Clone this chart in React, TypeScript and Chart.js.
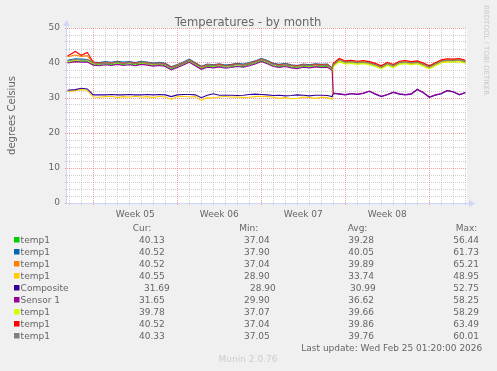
import React, { useEffect, useRef } from 'react';
import { Chart, registerables } from 'chart.js';

Chart.register(...registerables);

// x values: days relative to the start of Week 05 (Monday 00:00)
const times = [
  -2.15, -1.5, -1.0, -0.5, 0.0, 0.5, 1.0, 1.5, 2.0, 2.5, 3.0, 3.5, 4.0, 4.5, 5.0, 5.5, 6.0, 6.5, 7.0, 7.5,
  8.0, 8.5, 9.0, 9.5, 10.0, 10.5, 11.0, 11.5, 12.0, 12.5, 13.0, 13.5, 14.0, 14.5, 15.0, 15.5, 16.0, 16.5,
  17.0, 17.5, 18.0, 18.5, 19.0, 19.5, 19.9, 20.0, 20.5, 21.0, 21.5, 22.0, 22.5, 23.0, 23.5, 24.0, 24.5,
  25.0, 25.5, 26.0, 26.5, 27.0, 27.5, 28.0, 28.5, 29.0, 29.5, 30.0, 30.5, 31.0,
];

const temp1Green = [
  40.2, 40.6, 40.5, 40.6,
  39.7, 39.5, 39.8, 39.5, 39.9, 39.6, 39.8, 39.4, 39.9, 39.7, 39.4, 39.6, 39.2, 38.2, 39.0, 39.7,
  40.5, 39.5, 38.4, 39.1, 38.9, 39.2, 38.8, 39.0, 39.2, 39.0, 39.5, 40.0, 40.6, 40.1, 39.3, 38.9,
  39.3, 38.9, 38.7, 39.1, 38.9, 39.2, 38.9, 39.1,
  38.1,
  39.3, 40.7, 40.0, 40.2, 39.9, 40.1, 39.8, 39.3, 38.6, 39.6, 39.0, 39.9, 40.1, 39.8, 40.0, 39.4,
  38.6, 39.5, 40.3, 40.6, 40.5, 40.7, 40.2,
];
const temp1Blue = [
  40.8, 41.2, 41.1, 41.0,
  40.3, 40.1, 40.4, 40.2, 40.5, 40.3, 40.4, 40.1, 40.5, 40.3, 40.0, 40.2, 39.9, 38.9, 39.6, 40.3,
  41.1, 40.1, 39.1, 39.7, 39.5, 39.8, 39.4, 39.6, 39.9, 39.7, 40.1, 40.6, 41.3, 40.7, 39.9, 39.6,
  39.9, 39.5, 39.3, 39.7, 39.5, 39.8, 39.6, 39.7,
  38.6,
  39.6, 41.0, 40.3, 40.5, 40.2, 40.4, 40.1, 39.6, 38.9, 39.9, 39.3, 40.2, 40.4, 40.1, 40.3, 39.7,
  38.9, 39.8, 40.6, 40.9, 40.8, 41.0, 40.5,
];
const temp1Orange = [
  41.8, 42.3, 41.9, 42.1,
  40.1, 39.9, 40.2, 40.0, 40.3, 40.0, 40.2, 39.9, 40.3, 40.1, 39.8, 40.0, 39.7, 38.7, 39.4, 40.1,
  40.9, 39.9, 38.9, 39.5, 39.3, 39.6, 39.2, 39.4, 39.7, 39.5, 39.9, 40.4, 41.1, 40.5, 39.7, 39.4,
  39.7, 39.3, 39.1, 39.5, 39.3, 39.6, 39.4, 39.5,
  38.5,
  39.7, 41.1, 40.4, 40.6, 40.3, 40.5, 40.2, 39.7, 39.0, 40.0, 39.4, 40.3, 40.5, 40.2, 40.4, 39.8,
  39.0, 39.9, 40.7, 41.0, 40.9, 41.1, 40.6,
];
const temp1Yellow = [
  31.9, 32.1, 32.4, 32.2,
  30.3, 30.2, 30.4, 30.5, 30.1, 30.4, 30.3, 30.5, 30.2, 30.4, 30.1, 30.5, 30.3, 29.6, 30.4, 30.5,
  30.3, 30.4, 29.3, 30.1, 30.0, 30.3, 30.5, 30.2, 30.3, 30.1, 30.2, 30.4, 30.5, 30.4, 30.2, 29.9,
  30.1, 29.8, 29.9, 30.3, 30.1, 29.9, 30.2, 30.1,
  29.6,
  39.3, 40.6, 40.0, 40.2, 39.9, 40.1, 39.8, 39.3, 38.6, 39.6, 39.0, 39.9, 40.1, 39.8, 40.0, 39.4,
  38.6, 39.5, 40.3, 40.6, 40.5, 40.7, 40.2,
];
const composite = [
  32.2, 32.4, 32.8, 32.6,
  30.9, 30.9, 30.9, 31.0, 30.9, 30.9, 31.0, 30.9, 30.9, 31.0, 30.9, 31.0, 30.9, 30.4, 30.9, 31.0,
  31.0, 30.9, 30.1, 30.8, 31.2, 30.8, 30.8, 30.8, 30.7, 30.8, 31.0, 31.1, 31.0, 30.9, 30.7, 30.8,
  30.6, 30.7, 30.9, 30.8, 30.6, 30.8, 30.8, 30.7,
  30.4,
  31.3, 31.1, 30.9, 31.2, 31.0, 31.3, 31.9, 31.1, 30.4, 30.9, 31.6, 31.1, 30.9, 31.1, 32.4, 31.5,
  30.2, 30.8, 31.2, 32.1, 31.7, 30.9, 31.5,
];
const sensor1 = [
  40.0, 40.4, 40.2, 40.3,
  39.4, 39.2, 39.5, 39.3, 39.6, 39.3, 39.5, 39.2, 39.6, 39.4, 39.1, 39.3, 39.0, 38.0, 38.7, 39.4,
  40.2, 39.2, 38.2, 38.8, 38.6, 38.9, 38.5, 38.7, 39.0, 38.8, 39.2, 39.7, 40.4, 39.8, 39.0, 38.7,
  39.0, 38.6, 38.4, 38.8, 38.6, 38.9, 38.7, 38.8,
  37.9,
  31.4, 31.2, 31.0, 31.3, 31.1, 31.4, 32.0, 31.2, 30.5, 31.0, 31.7, 31.2, 31.0, 31.2, 32.5, 31.6,
  30.3, 30.9, 31.3, 32.2, 31.8, 31.0, 31.6,
];
const temp1Lime = [
  40.4, 40.8, 40.7, 40.7,
  39.9, 39.7, 40.0, 39.8, 40.1, 39.8, 40.0, 39.7, 40.1, 39.9, 39.6, 39.8, 39.5, 38.5, 39.2, 39.9,
  40.7, 39.7, 38.7, 39.3, 39.1, 39.4, 39.0, 39.2, 39.5, 39.3, 39.7, 40.2, 40.9, 40.3, 39.5, 39.2,
  39.5, 39.1, 38.9, 39.3, 39.1, 39.4, 39.2, 39.3,
  38.3,
  39.0, 40.3, 39.7, 39.9, 39.6, 39.8, 39.5, 39.0, 38.3, 39.3, 38.7, 39.6, 39.8, 39.5, 39.7, 39.1,
  38.3, 39.2, 40.0, 40.3, 40.2, 40.4, 39.9,
];
const temp1Red = [
  42.0, 43.3, 42.2, 43.0,
  40.2, 39.9, 40.1, 40.0, 40.3, 39.9, 40.2, 39.9, 40.2, 40.0, 39.8, 39.9, 39.7, 38.7, 39.3, 40.0,
  40.8, 39.9, 38.9, 39.4, 39.3, 39.6, 39.2, 39.4, 39.7, 39.4, 39.8, 40.4, 41.0, 40.5, 39.7, 39.4,
  39.6, 39.3, 39.1, 39.5, 39.3, 39.6, 39.4, 39.5,
  38.5,
  39.9, 41.3, 40.6, 40.8, 40.5, 40.7, 40.4, 39.9, 39.2, 40.2, 39.6, 40.5, 40.7, 40.4, 40.6, 40.0,
  39.2, 40.1, 40.9, 41.2, 41.1, 41.3, 40.8,
];
const temp1Gray = [
  40.6, 41.0, 40.8, 40.9,
  40.0, 39.8, 40.1, 39.9, 40.2, 39.9, 40.1, 39.8, 40.2, 40.0, 39.7, 39.9, 39.6, 38.6, 39.3, 40.0,
  40.8, 39.8, 38.8, 39.4, 39.2, 39.5, 39.1, 39.3, 39.6, 39.4, 39.8, 40.3, 41.0, 40.4, 39.6, 39.3,
  39.6, 39.2, 39.0, 39.4, 39.2, 39.5, 39.3, 39.4,
  38.4,
  39.5, 40.9, 40.2, 40.4, 40.1, 40.3, 40.0, 39.5, 38.8, 39.8, 39.2, 40.1, 40.3, 40.0, 40.2, 39.6,
  38.8, 39.7, 40.5, 40.8, 40.7, 40.9, 40.4,
];

const seriesLabels = ['temp1', 'temp1', 'temp1', 'temp1', 'Composite', 'Sensor 1', 'temp1', 'temp1', 'temp1'];
const seriesColors = ['#00cc00', '#0066b3', '#ff8000', '#ffcc00', '#330099', '#990099', '#ccff00', '#ff0000', '#808080'];
const seriesData = [temp1Green, temp1Blue, temp1Orange, temp1Yellow, composite, sensor1, temp1Lime, temp1Red, temp1Gray];

const curValues = [40.13, 40.52, 40.52, 40.55, 31.69, 31.65, 39.78, 40.52, 40.33];
const minValues = [37.04, 37.9, 37.04, 28.9, 28.9, 29.9, 37.07, 37.04, 37.05];
const avgValues = [39.28, 40.05, 39.89, 33.74, 30.99, 36.62, 39.66, 39.86, 39.76];
const maxValues = [56.44, 61.73, 65.21, 48.95, 52.75, 58.25, 58.29, 63.49, 60.01];

const weekLabels = ['Week 05', 'Week 06', 'Week 07', 'Week 08'];
const weekCenters = [3.5, 10.5, 17.5, 24.5];
const weekStarts = [0, 7, 14, 21, 28];
const dayLines = [-2, -1, 0, 1, 2, 3, 4, 5, 6, 7, 8, 9, 10, 11, 12, 13, 14, 15, 16, 17, 18, 19, 20, 21, 22, 23, 24, 25, 26, 27, 28, 29, 30, 31];

const xMin = -2.19;
const xMax = 31.14;
const yMin = 0;
const yMax = 50;

const titleText = 'Temperatures - by month';
const yAxisTitle = 'degrees Celsius';
const watermark = 'RRDTOOL / TOBI OETIKER';
const lastUpdate = 'Last update: Wed Feb 25 01:20:00 2026';
const versionText = 'Munin 2.0.76';

const FONT = "'DejaVu Sans', sans-serif";
const TEXT = '#666666';
const MINOR = 'rgba(140,140,140,0.42)';
const MAJOR = 'rgba(232,80,80,0.55)';
const AXIS = '#CFD6F8';

const bgPlugin = {
  id: 'bg',
  beforeDraw(chart: any) {
    const { ctx, chartArea } = chart;
    ctx.save();
    ctx.fillStyle = '#F0F0F0';
    ctx.fillRect(0, 0, chart.width, chart.height);
    ctx.fillStyle = '#FFFFFF';
    ctx.fillRect(chartArea.left, chartArea.top, chartArea.right - chartArea.left, chartArea.bottom - chartArea.top);
    ctx.restore();
  },
};

const decoPlugin = {
  id: 'deco',
  afterDraw(chart: any) {
    const { ctx, chartArea } = chart;
    const L = chartArea.left;
    const B = chartArea.bottom;
    const R = chartArea.right;
    const T = chartArea.top;
    ctx.save();
    // axes
    ctx.strokeStyle = AXIS;
    ctx.lineWidth = 1;
    ctx.beginPath();
    ctx.moveTo(L - 0.5, B + 0.5);
    ctx.lineTo(R + 3, B + 0.5);
    ctx.moveTo(L - 0.5, B + 0.5);
    ctx.lineTo(L - 0.5, T - 3);
    ctx.stroke();
    ctx.fillStyle = AXIS;
    ctx.beginPath();
    ctx.moveTo(R + 8, B + 0.5);
    ctx.lineTo(R + 2, B - 3);
    ctx.lineTo(R + 2, B + 4);
    ctx.closePath();
    ctx.fill();
    ctx.beginPath();
    ctx.moveTo(L - 0.5, T - 8);
    ctx.lineTo(L - 4, T - 2);
    ctx.lineTo(L + 3, T - 2);
    ctx.closePath();
    ctx.fill();

    // title
    ctx.fillStyle = TEXT;
    ctx.textBaseline = 'alphabetic';
    ctx.font = `11.6px ${FONT}`;
    ctx.textAlign = 'center';
    ctx.fillText(titleText, 248, 25.5);

    // y axis title
    ctx.save();
    ctx.font = `10px ${FONT}`;
    ctx.translate(15, (T + B) / 2);
    ctx.rotate(-Math.PI / 2);
    ctx.textAlign = 'center';
    ctx.fillText(yAxisTitle, 0, 0);
    ctx.restore();

    // watermark
    ctx.save();
    ctx.fillStyle = '#c8c8c8';
    ctx.font = `7px ${FONT}`;
    ctx.translate(484, 5);
    ctx.rotate(Math.PI / 2);
    ctx.textAlign = 'left';
    ctx.fillText(watermark, 0, 0);
    ctx.restore();

    // legend table
    ctx.font = `9px ${FONT}`;
    ctx.textAlign = 'left';
    ctx.fillStyle = TEXT;
    const headY = 231.3;
    ctx.fillText('Cur:', 132.7, headY);
    ctx.fillText('Min:', 239.3, headY);
    ctx.fillText('Avg:', 347.7, headY);
    ctx.fillText('Max:', 455.7, headY);
    for (let i = 0; i < seriesLabels.length; i++) {
      const y = 243.3 + 12 * i;
      ctx.fillStyle = seriesColors[i];
      ctx.fillRect(14, y - 6.3, 5.5, 5.5);
      ctx.fillStyle = TEXT;
      ctx.fillText(seriesLabels[i], 20.6, y);
      const shift = seriesLabels[i] === 'Composite' ? [5, 6, 1.7, 0] : [0, 0, 0, 0];
      ctx.fillText(curValues[i].toFixed(2), 139 + shift[0], y);
      ctx.fillText(minValues[i].toFixed(2), 244 + shift[1], y);
      ctx.fillText(avgValues[i].toFixed(2), 348.3 + shift[2], y);
      ctx.fillText(maxValues[i].toFixed(2), 453.3 + shift[3], y);
    }
    ctx.textAlign = 'right';
    ctx.fillText(lastUpdate, 482.3, 351.4);
    ctx.textAlign = 'center';
    ctx.fillStyle = '#cccccc';
    ctx.fillText(versionText, 248, 361.7);
    ctx.restore();
  },
};

export default function App() {
  const ref = useRef<HTMLCanvasElement | null>(null);
  useEffect(() => {
    if (!ref.current) return;
    const xTickValues = [...dayLines, ...weekCenters].sort((a, b) => a - b);
    const yTickValues: number[] = [];
    for (let v = yMin; v <= yMax; v += 2) yTickValues.push(v);
    const chart = new Chart(ref.current, {
      type: 'line',
      data: {
        datasets: seriesData.map((d, i) => ({
          label: seriesLabels[i],
          data: times.map((t, j) => ({ x: t, y: d[j] })),
          borderColor: seriesColors[i],
          backgroundColor: seriesColors[i],
          borderWidth: 1.1,
          pointRadius: 0,
          tension: 0,
          fill: false,
          order: seriesData.length - 1 - i,
        })),
      },
      options: {
        responsive: false,
        animation: false,
        devicePixelRatio: 1,
        events: [],
        layout: { padding: { top: 28, right: 30, bottom: 0, left: 0 } },
        plugins: {
          legend: { display: false },
          title: { display: false },
          tooltip: { enabled: false },
        },
        scales: {
          x: {
            type: 'linear',
            min: xMin,
            max: xMax,
            afterBuildTicks: (s: any) => {
              s.ticks = xTickValues.map((v) => ({ value: v }));
            },
            afterFit: (s: any) => {
              s.height = 168;
            },
            ticks: {
              autoSkip: false,
              maxRotation: 0,
              minRotation: 0,
              padding: 4,
              color: TEXT,
              font: { family: FONT, size: 9 },
              callback: (v: any) => {
                const k = weekCenters.indexOf(Number(v));
                return k >= 0 ? weekLabels[k] : '';
              },
            },
            grid: {
              color: (c: any) => {
                const v = c.tick ? c.tick.value : 0;
                if (weekStarts.includes(v)) return MAJOR;
                if (Number.isInteger(v)) return MINOR;
                return 'rgba(0,0,0,0)';
              },
              lineWidth: 1,
              drawTicks: true,
              tickLength: 2,
            },
            border: { display: false, dash: [1, 1] },
          },
          y: {
            type: 'linear',
            min: yMin,
            max: yMax,
            afterBuildTicks: (s: any) => {
              s.ticks = yTickValues.map((v) => ({ value: v }));
            },
            afterFit: (s: any) => {
              s.width = 67;
            },
            ticks: {
              autoSkip: false,
              padding: 5,
              color: TEXT,
              font: { family: FONT, size: 9 },
              callback: (v: any) => (Number(v) % 10 === 0 ? String(v) : ''),
            },
            grid: {
              color: (c: any) => {
                const v = c.tick ? c.tick.value : 0;
                return v % 10 === 0 ? MAJOR : MINOR;
              },
              lineWidth: 1,
              drawTicks: true,
              tickLength: 2,
            },
            border: { display: false, dash: [1, 1] },
          },
        },
      },
      plugins: [bgPlugin, decoPlugin],
    } as any);
    return () => chart.destroy();
  }, []);
  return (
    <div style={{ position: 'fixed', left: 0, top: 0, width: 497, height: 371, background: '#F0F0F0' }}>
      <canvas ref={ref} width={497} height={371} style={{ display: 'block', width: 497, height: 371 }} />
    </div>
  );
}
